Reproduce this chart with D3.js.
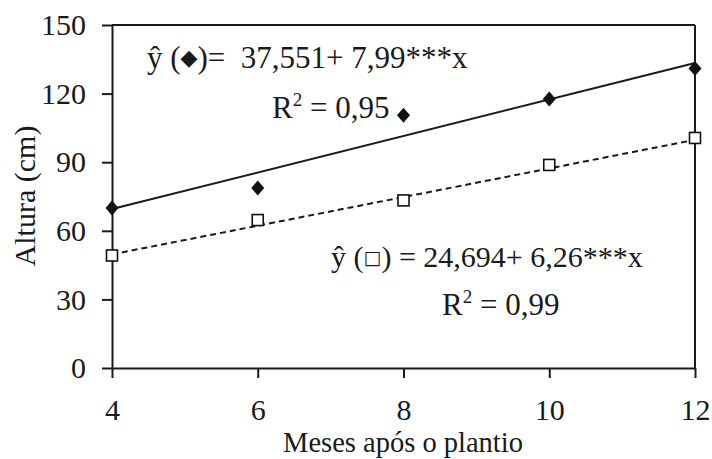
<!DOCTYPE html>
<html>
<head>
<meta charset="utf-8">
<script src="https://cdn.jsdelivr.net/npm/d3@7"></script>
<style>
  html, body { margin: 0; padding: 0; background: #fff; }
  svg { display: block; }
</style>
</head>
<body>
<div id="chart"></div>
<script>
const months = [4, 6, 8, 10, 12];
const heightDiamond = [70, 78.7, 110.5, 117.6, 131];
const heightSquare = [49.2, 64.7, 73.3, 88.8, 100.6];
// fitted line values at the ends of the range
const fitX = [4, 12];
const fitDiamond = [69.5, 133.4];
const fitSquare = [49.7, 99.8];
const xTicks = [4, 6, 8, 10, 12];
const yTicks = [0, 30, 60, 90, 120, 150];

const totalW = 712, totalH = 459;
const ink = '#1a1a1a';
const serif = '"Liberation Serif", "Times New Roman", serif';

const svg = d3.select('#chart')
  .append('svg')
  .attr('width', totalW)
  .attr('height', totalH);

const x = d3.scaleLinear().domain([4, 12]).range([112, 695]);
const y = d3.scaleLinear().domain([0, 150]).range([368, 25]);

// frame: top and right borders
svg.append('line')
  .attr('x1', x(4)).attr('x2', x(12))
  .attr('y1', y(150)).attr('y2', y(150))
  .attr('stroke', ink).attr('stroke-width', 2);
svg.append('line')
  .attr('x1', x(12)).attr('x2', x(12))
  .attr('y1', y(150)).attr('y2', y(0))
  .attr('stroke', ink).attr('stroke-width', 2);

const yAxis = svg.append('g')
  .attr('transform', `translate(${x(4)},0)`)
  .call(d3.axisLeft(y).tickValues(yTicks).tickSize(10).tickSizeOuter(0).tickPadding(16));

const xAxis = svg.append('g')
  .attr('transform', `translate(0,${y(0)})`)
  .call(d3.axisBottom(x).tickValues(xTicks).tickSize(10).tickSizeOuter(0).tickPadding(21));

[yAxis, xAxis].forEach(a => {
  a.attr('font-family', null).attr('font-size', null);
  a.select('.domain').attr('stroke', ink).attr('stroke-width', 2);
  a.selectAll('.tick line').attr('stroke', ink).attr('stroke-width', 2);
  a.selectAll('.tick text')
    .attr('fill', ink)
    .style('font-family', serif)
    .style('font-size', '30px');
});

// fitted lines
const line = d3.line().x(d => x(d[0])).y(d => y(d[1]));
svg.append('path')
  .datum(d3.zip(fitX, fitDiamond))
  .attr('d', line)
  .attr('fill', 'none')
  .attr('stroke', ink)
  .attr('stroke-width', 2);
svg.append('path')
  .datum(d3.zip(fitX, fitSquare))
  .attr('d', line)
  .attr('fill', 'none')
  .attr('stroke', ink)
  .attr('stroke-width', 2)
  .attr('stroke-dasharray', '6,4');

// points
svg.selectAll('.diamond')
  .data(d3.zip(months, heightDiamond))
  .join('path')
  .attr('class', 'diamond')
  .attr('transform', d => `translate(${x(d[0])},${y(d[1])})`)
  .attr('d', 'M0,-7.5L6.5,0L0,7.5L-6.5,0Z')
  .attr('fill', '#111');

svg.selectAll('.square')
  .data(d3.zip(months, heightSquare))
  .join('rect')
  .attr('class', 'square')
  .attr('x', d => x(d[0]) - 5.5)
  .attr('y', d => y(d[1]) - 5.5)
  .attr('width', 11).attr('height', 11)
  .attr('fill', '#fff')
  .attr('stroke', '#111')
  .attr('stroke-width', 1.6);

function label(tx, ty, size) {
  return svg.append('text')
    .attr('x', tx).attr('y', ty)
    .attr('fill', ink)
    .style('font-family', serif)
    .style('font-size', size + 'px')
    .style('white-space', 'pre');
}

// equations
function equation(tx, ty, size, symbol, symSize, rest) {
  const t = label(tx, ty, size);
  t.append('tspan').text('ŷ (');
  t.append('tspan')
    .style('font-family', '"DejaVu Sans", sans-serif')
    .style('font-size', symSize + 'px')
    .attr('dy', -3)
    .text(symbol);
  t.append('tspan').attr('dy', 3).text(rest);
}
function rsq(tx, ty, size, val) {
  const t = label(tx, ty, size);
  t.append('tspan').text('R');
  t.append('tspan').style('font-size', '19px').attr('dy', -12).text('2');
  t.append('tspan').attr('dy', 12).text(' = ' + val);
}

equation(147, 68, 31, '◆', 22, ')=  37,551+ 7,99***x');
rsq(272, 118, 31, '0,95');
equation(331, 267, 30, '□', 19, ') = 24,694+ 6,26***x');
rsq(442, 315, 31, '0,99');

// axis titles
label(403, 452, 28.5)
  .attr('text-anchor', 'middle')
  .text('Meses após o plantio');

label(0, 0, 30)
  .attr('x', null).attr('y', null)
  .attr('transform', 'translate(35,196) rotate(-90)')
  .attr('text-anchor', 'middle')
  .text('Altura (cm)');
</script>
</body>
</html>
